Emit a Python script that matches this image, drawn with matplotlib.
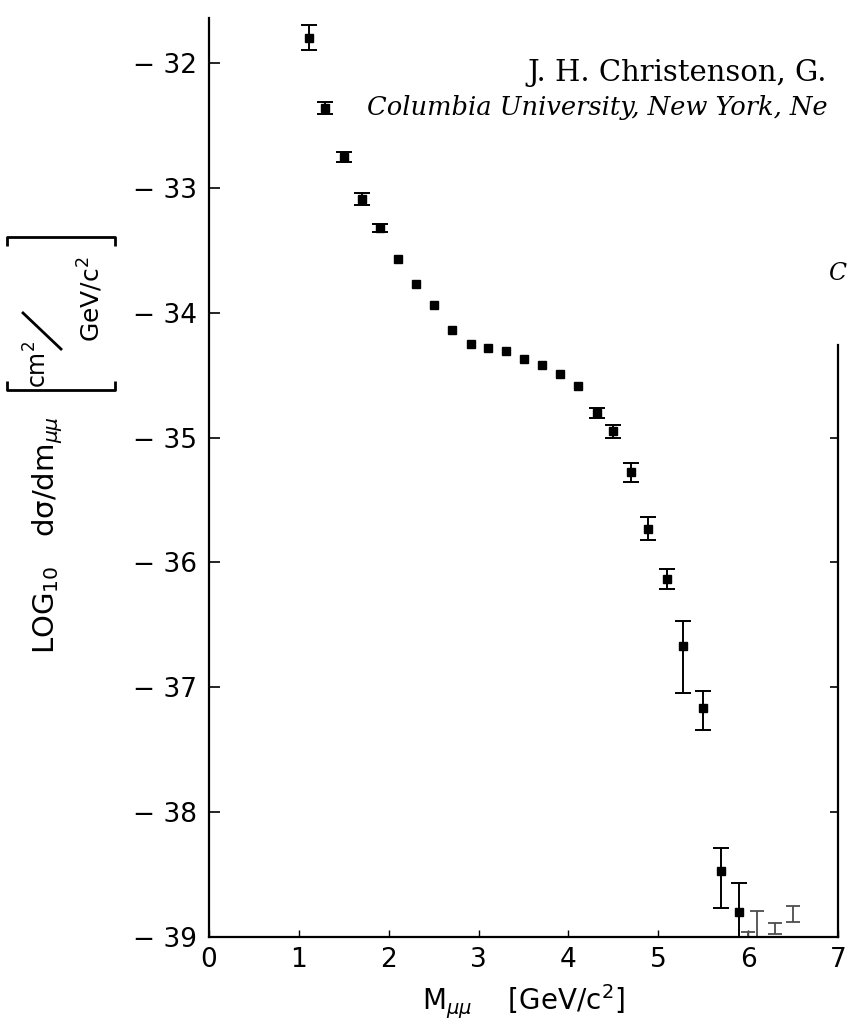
import matplotlib
matplotlib.use('Agg')
import matplotlib.pyplot as plt
from matplotlib.lines import Line2D

plt.rcParams['font.family'] = 'DejaVu Sans'
plt.rcParams['mathtext.fontset'] = 'dejavusans'

# dimuon mass bins (GeV/c^2) and log10 d(sigma)/dm
mass = [1.11, 1.29, 1.50, 1.70, 1.90, 2.10, 2.30, 2.50, 2.70, 2.92, 3.11, 3.31, 3.51,
        3.71, 3.91, 4.11, 4.32, 4.50, 4.70, 4.89, 5.10, 5.28, 5.50, 5.70, 5.90]
log_xsec = [-31.80, -32.36, -32.75, -33.09, -33.32, -33.57, -33.77, -33.94, -34.14,
            -34.25, -34.28, -34.31, -34.37, -34.42, -34.49, -34.59, -34.80, -34.95,
            -35.28, -35.73, -36.13, -36.67, -37.17, -38.47, -38.80]
err_hi = [0.10, 0.05, 0.04, 0.05, 0.03, 0, 0, 0, 0, 0, 0, 0, 0, 0, 0, 0,
          0.04, 0.05, 0.08, 0.09, 0.08, 0.20, 0.14, 0.18, 0.23]
err_lo = [0.10, 0.05, 0.04, 0.05, 0.03, 0, 0, 0, 0, 0, 0, 0, 0, 0, 0, 0,
          0.04, 0.05, 0.08, 0.09, 0.08, 0.38, 0.17, 0.30, 0.25]

# last bins: bars only, no central value
tail_mass = [6.0, 6.1, 6.3, 6.5]
tail_lo = [-39.0, -39.0, -38.98, -38.88]
tail_hi = [-38.96, -38.79, -38.89, -38.75]

xticks = [0, 1, 2, 3, 4, 5, 6, 7]
yticks = [-39, -38, -37, -36, -35, -34, -33, -32]

W, H = 847, 1023


def fp(x, y):
    # pixel position (from top-left) -> figure fraction
    return x / W, 1 - y / H


fig = plt.figure(figsize=(8.47, 10.23), dpi=100)
ax = fig.add_axes([0.2468, 0.0841, 0.7426, 0.8983])

ax.plot(mass, log_xsec, 's', ms=6.3, color='black', zorder=3)

# error bars only where the error is larger than the point
bars = [i for i in range(len(mass)) if err_hi[i] > 0 or err_lo[i] > 0]
ax.errorbar([mass[i] for i in bars], [log_xsec[i] for i in bars],
            yerr=[[err_lo[i] for i in bars], [err_hi[i] for i in bars]],
            fmt='none', ecolor='black', elinewidth=1.4, capsize=5.5, capthick=1.4)

tail_mid = [(a + b) / 2 for a, b in zip(tail_lo, tail_hi)]
tail_err = [(b - a) / 2 for a, b in zip(tail_lo, tail_hi)]
ax.errorbar(tail_mass, tail_mid, yerr=tail_err, fmt='none', ecolor='0.3',
            elinewidth=1.3, capsize=5, capthick=1.3)

ax.set_xlim(0, 7)
ax.set_ylim(-39, -31.64)
ax.spines['top'].set_visible(False)
ax.spines['right'].set_bounds(-39, -34.26)
for s in ax.spines.values():
    s.set_linewidth(1.6)

ax.set_xticks(xticks)
ax.set_xticklabels([str(t) for t in xticks])
ax.set_yticks(yticks)
ax.set_yticklabels(['\u2212 ' + str(abs(t)) for t in yticks])
ax.tick_params(axis='x', direction='in', length=5, width=1, pad=7, labelsize=19)
ax.tick_params(axis='y', direction='in', length=8, width=1.2, pad=9, labelsize=19)

# inward ticks on the short right-hand axis
rt = ax.twinx()
rt.set_ylim(ax.get_ylim())
rt.set_yticks([-38, -37, -36, -35])
rt.tick_params(direction='in', length=6, width=1.2, labelright=False)
for s in rt.spines.values():
    s.set_visible(False)

ax.set_xlabel(r'$\mathrm{M}_{\mu\mu}\ \ \ \ \left[\mathrm{GeV/c^2}\right]$', fontsize=20, labelpad=7)

# y label: LOG10 dsigma/dm [cm^2 / GeV/c^2], built from pieces
rot = dict(rotation=90, rotation_mode='anchor', ha='left', va='baseline')
fig.text(*fp(54, 654), r'$\mathrm{LOG_{10}\ \ \ d\sigma/dm}_{\mu\mu}$', fontsize=21, **rot)
fig.text(*fp(47, 388), r'$\mathrm{cm^2}$', fontsize=17, **rot)
fig.text(*fp(100, 342), r'$\mathrm{GeV/c^2}$', fontsize=18, **rot)
bracket = dict(color='black', lw=2.0, solid_capstyle='butt')
for xs, ys in [([22, 62], [312, 350]),                      # slash
               ([7, 7, 115, 115], [381, 390, 390, 381]),    # opening bracket
               ([7, 7, 115, 115], [246, 237, 237, 246])]:   # closing bracket
    pts = [fp(x, y) for x, y in zip(xs, ys)]
    fig.add_artist(Line2D([p[0] for p in pts], [p[1] for p in pts],
                          transform=fig.transFigure, **bracket))

fig.text(*fp(527, 81), 'J. H. Christenson, G.', family='DejaVu Serif',
         fontsize=21, va='baseline')
fig.text(*fp(367, 115), 'Columbia University, New York, Ne',
         family='DejaVu Serif', style='italic', fontsize=18.5, va='baseline')
fig.text(*fp(828, 280), 'C', family='DejaVu Serif', style='italic',
         fontsize=17, va='baseline')

fig.savefig('out.png', dpi=100)
